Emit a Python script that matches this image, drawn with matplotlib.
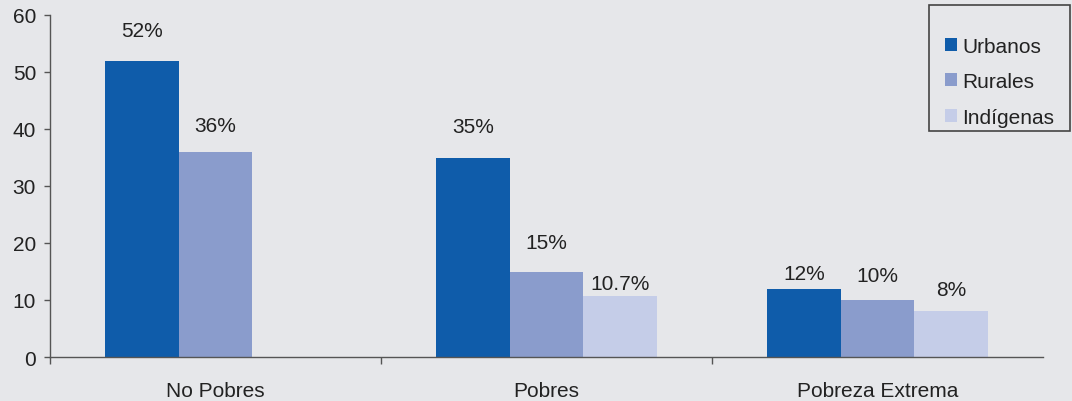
import numpy as np
import matplotlib.pyplot as plt
from matplotlib.patches import Rectangle

plt.rcParams["font.family"] = ["Liberation Sans", "DejaVu Sans"]

# Datos
categorias = ["No Pobres", "Pobres", "Pobreza Extrema"]
series = ["Urbanos", "Rurales", "Indígenas"]
urbanos = [52, 35, 12]
rurales = [36, 15, 10]
indigenas = [np.nan, 10.7, 8]
etiquetas = [["52%", "35%", "12%"], ["36%", "15%", "10%"], [None, "10.7%", "8%"]]

colores = ["#0f5caa", "#8a9ccc", "#c5cde8"]
fondo = "#e6e7ea"
fs = 15
# desplazamiento vertical de las etiquetas (puntos)
offsets = [[22, 22, 11], [19, 21, 18], [0, 9, 16]]

fig = plt.figure(figsize=(10.72, 4.02), dpi=100, facecolor=fondo)
ax = fig.add_axes([50 / 1072, 1 - 358 / 402, 993 / 1072, 342 / 402])
ax.set_facecolor(fondo)

x = np.arange(len(categorias))
w = 0.2225
valores = [urbanos, rurales, indigenas]
for i, (vals, col) in enumerate(zip(valores, colores)):
    xs = x + (i - 1) * w
    ax.bar(xs, vals, width=w, color=col, label=series[i], zorder=2)
    for xx, v, lab, off in zip(xs, vals, etiquetas[i], offsets[i]):
        if lab is None or np.isnan(v):
            continue
        ax.annotate(lab, (xx, v), xytext=(0, off), textcoords="offset points",
                    ha="center", va="center", fontsize=fs, color="#222222")

ax.set_xlim(-0.5, 2.5)
ax.set_ylim(0, 60)
ax.set_yticks(range(0, 61, 10))
ax.tick_params(axis="y", length=4, width=1, color="#555555", pad=6,
               labelsize=fs, labelcolor="#222222")
ax.set_xticks(x)
ax.set_xticklabels(categorias)
ax.tick_params(axis="x", length=0, pad=17, labelsize=fs, labelcolor="#222222")
ax.set_xticks([-0.5, 0.5, 1.5], minor=True)
ax.tick_params(axis="x", which="minor", length=5, width=1, color="#555555", direction="out")

for s in ["top", "right"]:
    ax.spines[s].set_visible(False)
for s in ["left", "bottom"]:
    ax.spines[s].set_color("#555555")
    ax.spines[s].set_linewidth(1)

# Leyenda con marco propio
fig.patches.append(Rectangle((929 / 1072, 1 - 132 / 402), 141 / 1072, 126 / 402,
                             transform=fig.transFigure, facecolor="none",
                             edgecolor="#444444", linewidth=1.2))
leg = fig.legend(loc="upper left", bbox_to_anchor=(945 / 1072, 1 - 38 / 402),
                 frameon=False, fontsize=fs, handlelength=0.58, handleheight=0.58,
                 handletextpad=0.25, labelspacing=0.78, borderaxespad=0, borderpad=0)
for t in leg.get_texts():
    t.set_color("#222222")

plt.savefig("out.png", dpi=100, facecolor=fondo)
